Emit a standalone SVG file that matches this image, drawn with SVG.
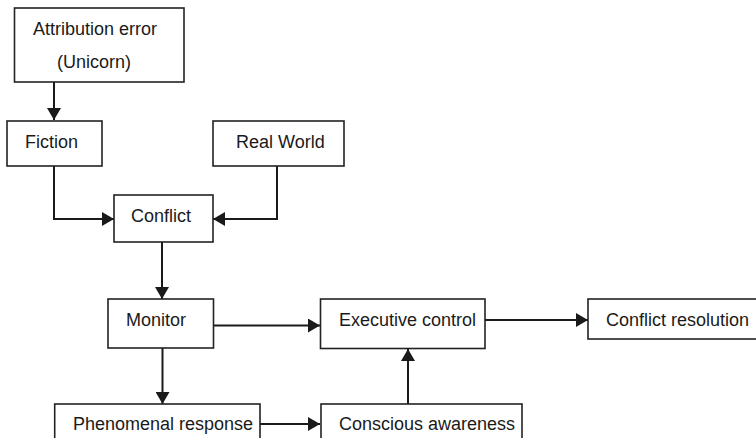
<svg xmlns="http://www.w3.org/2000/svg" width="756" height="438" viewBox="0 0 756 438">
<defs>
<style>
.box{fill:#fff;stroke:#222;stroke-width:1.6}
.lbl{font-family:"Liberation Sans",Arial,sans-serif;font-size:18px;fill:#1a1a1a}
.conn{fill:none;stroke:#1a1a1a;stroke-width:2}
</style>
<marker id="ah" viewBox="0 0 12 14" refX="12" refY="7" markerWidth="12" markerHeight="14" markerUnits="userSpaceOnUse" orient="auto">
<path d="M0,0 L12,7 L0,14 Z" fill="#1a1a1a"/>
</marker>
</defs>
<rect width="756" height="438" fill="#fff"/>
<g id="connectors">
<path class="conn" d="M54,82 V120" marker-end="url(#ah)"/>
<path class="conn" d="M54,166 V219 H114" marker-end="url(#ah)"/>
<path class="conn" d="M277,166 V219 H213" marker-end="url(#ah)"/>
<path class="conn" d="M162,242 V299" marker-end="url(#ah)"/>
<path class="conn" d="M213,325.5 H320" marker-end="url(#ah)"/>
<path class="conn" d="M485,320 H588" marker-end="url(#ah)"/>
<path class="conn" d="M162.5,348 V404" marker-end="url(#ah)"/>
<path class="conn" d="M260,424 H320" marker-end="url(#ah)"/>
<path class="conn" d="M408,404 V349" marker-end="url(#ah)"/>
</g>
<g id="attribution">
<rect class="box" x="14.5" y="8" width="169.5" height="74"/>
<text class="lbl" x="95" y="35" text-anchor="middle">Attribution error</text>
<text class="lbl" x="94" y="68" text-anchor="middle">(Unicorn)</text>
</g>
<g id="fiction">
<rect class="box" x="7" y="121" width="95" height="45"/>
<text class="lbl" x="25" y="148">Fiction</text>
</g>
<g id="realworld">
<rect class="box" x="213" y="121" width="131" height="45"/>
<text class="lbl" x="236" y="148">Real World</text>
</g>
<g id="conflict">
<rect class="box" x="114" y="195" width="99" height="47"/>
<text class="lbl" x="131" y="222">Conflict</text>
</g>
<g id="monitor">
<rect class="box" x="108" y="299" width="105.5" height="49"/>
<text class="lbl" x="126" y="326">Monitor</text>
</g>
<g id="executive">
<rect class="box" x="320.5" y="299" width="164.5" height="49.5"/>
<text class="lbl" x="339" y="326">Executive control</text>
</g>
<g id="resolution">
<rect class="box" x="588" y="299" width="180" height="40"/>
<text class="lbl" x="606" y="326">Conflict resolution</text>
</g>
<g id="phenomenal">
<rect class="box" x="54.7" y="404" width="205.3" height="50"/>
<text class="lbl" x="73" y="430">Phenomenal response</text>
</g>
<g id="conscious">
<rect class="box" x="321" y="404" width="201" height="50"/>
<text class="lbl" x="339" y="430">Conscious awareness</text>
</g>
</svg>
